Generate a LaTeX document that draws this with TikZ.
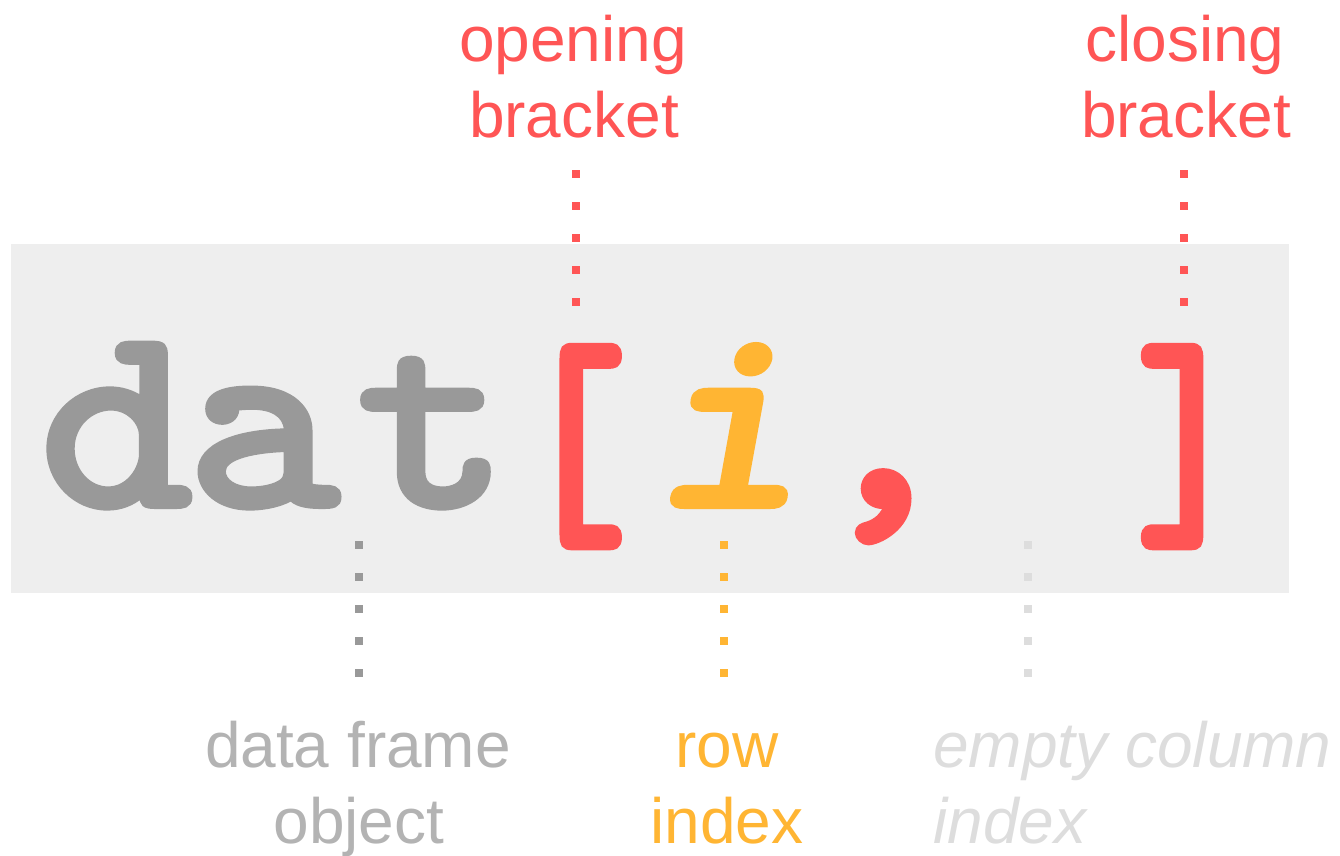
\documentclass[tikz,border=0pt]{standalone}
\usepackage{fontspec}
\setmainfont{Liberation Sans}
\newfontfamily\cf{lmmonolt10-bold.otf}[FakeBold=1.5, FakeStretch=1.1]
\newfontfamily\cfi{lmmonolt10-boldoblique.otf}[FakeBold=1.5, FakeStretch=1.1]
\newfontfamily\cfb{lmmonolt10-bold.otf}[FakeBold=2.5, FakeStretch=0.8]
\definecolor{bg}{HTML}{EEEEEE}
\definecolor{cred}{HTML}{FF5555}
\definecolor{corange}{HTML}{FFB533}
\definecolor{cgray}{HTML}{999999}
\definecolor{clabgray}{HTML}{B3B3B3}
\definecolor{clight}{HTML}{DDDDDD}
\tikzset{
  code/.style={anchor=base, inner sep=0pt, font=\fontsize{269}{269}\cf},
  codeit/.style={anchor=base, inner sep=0pt, font=\fontsize{269}{269}\cfi},
  brk/.style={anchor=base, inner sep=0pt, font=\fontsize{260}{260}\cfb, text=cred},
  lbl/.style={anchor=base, inner sep=0pt, font=\fontsize{64}{76}\selectfont},
  lblit/.style={anchor=base west, inner sep=0pt, font=\fontsize{64}{76}\selectfont\itshape},
  dots/.style={line width=8pt, dash pattern=on 8pt off 24pt},
}
\begin{document}
\begin{tikzpicture}[x=1pt,y=-1pt]
\useasboundingbox (0,0) rectangle (1340,855);
\fill[bg] (11,244) rectangle (1289,593);
% code
\node[code, text=cgray] (cd) at (116,507) {d};
\node[code, text=cgray] (ca) at (263,507) {a};
\node[code, text=cgray] (ct) at (433,507) {t};
\node[brk] (copen) at (572,526) {[};
\node[codeit, text=corange] (ci) at (726,507) {i};
\node[code, text=cred] (ccomma) at (883,507) {,};
\node[brk] (cclose) at (1191,526) {]};
% labels
\node[lbl, text=cred] (lo1) at (573,61) {opening};
\node[lbl, text=cred] (lo2) at (574,137) {bracket};
\node[lbl, text=cred] (lc1) at (1185,61) {closing};
\node[lbl, text=cred] (lc2) at (1186,137) {bracket};
\node[lbl, text=clabgray] (ld1) at (358,767) {data frame};
\node[lbl, text=clabgray] (ld2) at (359,843) {object};
\node[lbl, text=corange] (lr1) at (727,767) {row};
\node[lbl, text=corange] (lr2) at (727,843) {index};
\node[lblit, text=clight] (le1) at (933,767) {empty column};
\node[lblit, text=clight] (le2) at (933,843) {index};
% dotted connectors
\coordinate (ob1) at (576,170); \coordinate (ob2) at (576,307);
\coordinate (cb1) at (1184,170); \coordinate (cb2) at (1184,307);
\coordinate (df1) at (358.5,541); \coordinate (df2) at (358.5,677);
\coordinate (ri1) at (724,541); \coordinate (ri2) at (724,677);
\coordinate (ec1) at (1028,541); \coordinate (ec2) at (1028,677);
\draw[dots, cred] (ob1) -- (ob2);
\draw[dots, cred] (cb1) -- (cb2);
\draw[dots, cgray] (df1) -- (df2);
\draw[dots, corange] (ri1) -- (ri2);
\draw[dots, clight] (ec1) -- (ec2);
\end{tikzpicture}
\end{document}
